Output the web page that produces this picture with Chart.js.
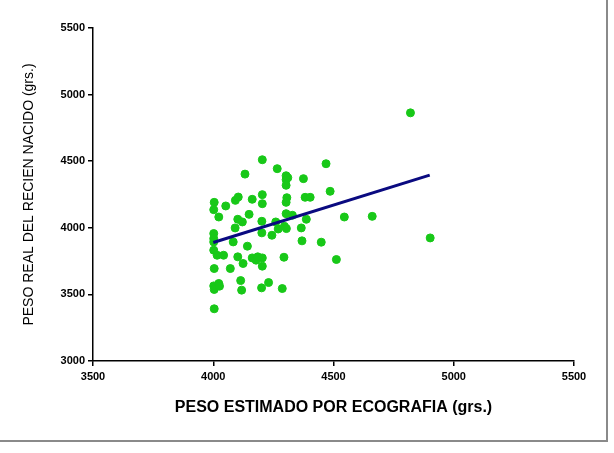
<!DOCTYPE html>
<html>
<head>
<meta charset="utf-8">
<script src="https://cdn.jsdelivr.net/npm/chart.js@4"></script>
<style>
  html, body { margin: 0; padding: 0; background: #fff; }
  #wrap { position: relative; width: 614px; height: 453px; }
  #frame {
    position: absolute; left: 0; top: 0; width: 606px; height: 440px;
    border-right: 2px solid #8a8a8a; border-bottom: 2px solid #8a8a8a;
    pointer-events: none;
  }
</style>
</head>
<body>
<div id="wrap">
  <canvas id="pesoChart" width="614" height="453"></canvas>
  <div id="frame"></div>
</div>
<script>
// peso estimado por ecografia vs peso real (grs.)
const estimado = [
  4820, 4204, 4266, 4132, 4469, 4303, 4303, 4310, 4303, 4375, 4486,
  4004, 4002, 4052, 4023, 4092, 4104, 4162, 4204, 4204, 4306, 4303,
  4382, 4403, 4149, 4102, 4121, 4202, 4260, 4303, 4329, 4387, 4091,
  4202, 4244, 4270, 4296, 4304, 4366, 4545, 4661, 4902, 4002, 4002,
  4002, 4083, 4369, 4449, 4002, 4016, 4043, 4142, 4102, 4162, 4178,
  4185, 4204, 4124, 4204, 4294, 4512, 4004, 4071, 4002, 4004, 4023,
  4026, 4114, 4118, 4201, 4230, 4287, 4004
];
const real = [
  4863, 4511, 4444, 4403, 4481, 4391, 4361, 4376, 4319, 4369, 4274,
  4191, 4136, 4164, 4081, 4206, 4231, 4214, 4249, 4181, 4226, 4191,
  4229, 4229, 4101, 4064, 4044, 4049, 4044, 4106, 4094, 4064, 3999,
  3962, 3944, 3991, 4011, 3994, 3999, 4081, 4086, 3924, 3957, 3919,
  3894, 3894, 3902, 3892, 3832, 3794, 3794, 3862, 3782, 3774, 3757,
  3782, 3774, 3732, 3712, 3779, 3762, 3694, 3694, 3564, 3537, 3582,
  3562, 3604, 3532, 3549, 3589, 3544, 3392
];
// linea de regresion
const regX = [4000, 4900];
const regY = [3890, 4395];

const xTicks = [3500, 4000, 4500, 5000, 5500];
const yTicks = [3000, 3500, 4000, 4500, 5000, 5500];

const puntos = estimado.map((x, i) => ({ x: x, y: real[i] }));
const recta = regX.map((x, i) => ({ x: x, y: regY[i] }));

const fam = "'Liberation Sans', Arial, sans-serif";
const tickFont = { family: fam, size: 11, weight: "bold" };

const ctx = document.getElementById("pesoChart").getContext("2d");

new Chart(ctx, {
  type: "scatter",
  data: {
    datasets: [
      {
        label: "Pacientes",
        data: puntos,
        backgroundColor: "#18c818",
        borderColor: "#18c818",
        pointRadius: 4,
        pointHoverRadius: 4,
        order: 2
      },
      {
        type: "line",
        label: "Regresion",
        data: recta,
        borderColor: "#0a0a80",
        borderWidth: 3,
        pointRadius: 0,
        fill: false,
        order: 1
      }
    ]
  },
  options: {
    responsive: false,
    animation: false,
    layout: { padding: { left: 0, top: 28, right: 40, bottom: 0 } },
    plugins: {
      legend: { display: false },
      tooltip: { enabled: false }
    },
    scales: {
      x: {
        type: "linear",
        min: 3500,
        max: 5500,
        afterBuildTicks: s => { s.ticks = xTicks.map(v => ({ value: v })); },
        afterFit: s => { s.height = 92; },
        border: { display: true, color: "#000", width: 1.5 },
        grid: { drawOnChartArea: false, drawTicks: true, tickLength: 5, color: "#000", lineWidth: 1.5 },
        ticks: { color: "#000", font: tickFont, padding: 4, maxRotation: 0, callback: v => String(v) },
        title: {
          display: true,
          text: "PESO ESTIMADO POR ECOGRAFIA (grs.)",
          color: "#000",
          font: { family: fam, size: 16, weight: "bold" },
          padding: { top: 0, bottom: 36 }
        }
      },
      y: {
        type: "linear",
        min: 3000,
        max: 5500,
        afterBuildTicks: s => { s.ticks = yTicks.map(v => ({ value: v })); },
        afterFit: s => { s.width = 93; },
        border: { display: true, color: "#000", width: 1.5 },
        grid: { drawOnChartArea: false, drawTicks: true, tickLength: 5, color: "#000", lineWidth: 1.5 },
        ticks: { color: "#000", font: tickFont, padding: 3, callback: v => String(v) },
        title: {
          display: true,
          text: "PESO REAL DEL RECIEN NACIDO (grs.)",
          color: "#000",
          font: { family: fam, size: 14, weight: "normal" },
          padding: { top: 21, bottom: 0 }
        }
      }
    }
  }
});
</script>
</body>
</html>
